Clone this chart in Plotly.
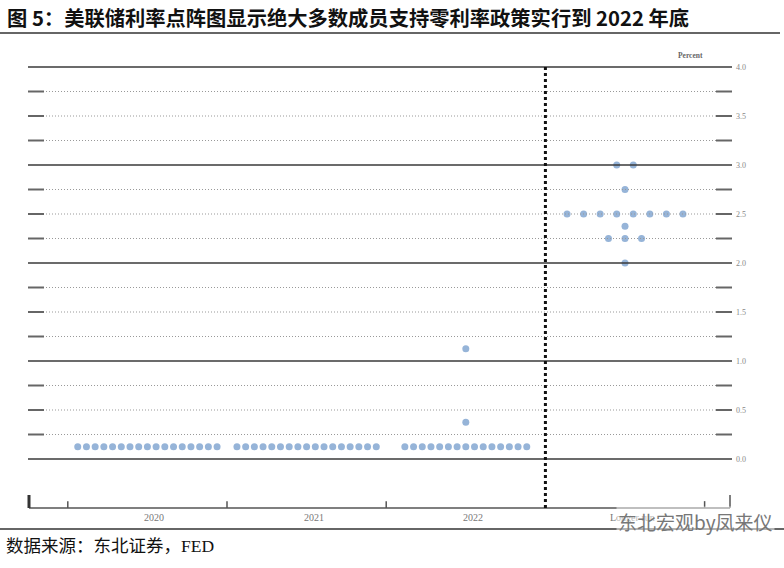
import plotly.graph_objects as go

# ---- data ----
categories = ["2020", "2021", "2022", "Longer run"]
rate_levels = [
    [0.125],                              # 2020
    [0.125],                              # 2021
    [0.125, 0.375, 1.125],                # 2022
    [2.0, 2.25, 2.375, 2.5, 2.75, 3.0],   # Longer run
]
rate_counts = [
    [17],
    [17],
    [15, 1, 1],
    [1, 3, 1, 8, 1, 2],
]
y_ticks = [0.0, 0.5, 1.0, 1.5, 2.0, 2.5, 3.0, 3.5, 4.0]
grid_levels = [i * 0.25 for i in range(17)]

title_text = "图 5：美联储利率点阵图显示绝大多数成员支持零利率政策实行到 2022 年底"
source_text = "数据来源：东北证券，FED"
watermark_text = "东北宏观by凤来仪"

# ---- geometry helpers (layout only) ----
W, H = 784, 568
X_RANGE = [-0.9259, 3.9987]
Y_RANGE = [-1.1122, 4.6837]
DOT_GAP = [0.0547, 0.0547, 0.0547, 0.104]

def px(x):
    return x / W

def py(y):
    return 1 - y / H

xs, ys = [], []
for ci, (levels, counts) in enumerate(zip(rate_levels, rate_counts)):
    for lv, n in zip(levels, counts):
        for k in range(n):
            xs.append(ci + (k - (n - 1) / 2) * DOT_GAP[ci])
            ys.append(lv)

fig = go.Figure()
fig.add_trace(go.Scatter(
    x=xs, y=ys, mode="markers",
    marker=dict(size=7, color="#96B4D8", line=dict(width=0)),
    hoverinfo="skip", showlegend=False,
))

shapes = []
for g in grid_levels:
    solid = abs(g - round(g)) < 1e-9
    shapes.append(dict(type="line", xref="paper", yref="y",
                       x0=px(28), x1=px(732), y0=g, y1=g,
                       line=dict(color="#3a3a3a" if solid else "#999",
                                 width=1.6 if solid else 1,
                                 dash="solid" if solid else "1px,2px")))
    if not solid:
        for a, b in [(28, 44), (716, 732)]:
            shapes.append(dict(type="line", xref="paper", yref="y",
                               x0=px(a), x1=px(b), y0=g, y1=g,
                               line=dict(color="#666", width=2)))

# bottom axis
shapes.append(dict(type="line", xref="paper", yref="y", x0=px(29), x1=px(730),
                   y0=-0.5, y1=-0.5, line=dict(color="#555", width=1.5)))
for t in [-0.5, 0.5, 1.5, 3.5]:
    shapes.append(dict(type="line", xref="x", yref="y", x0=t, x1=t,
                       y0=-0.5, y1=-0.43, line=dict(color="#555", width=1.5)))
shapes.append(dict(type="line", xref="paper", yref="y", x0=px(29), x1=px(29),
                   y0=-0.5, y1=-0.367, line=dict(color="#333", width=3)))
shapes.append(dict(type="line", xref="paper", yref="y", x0=px(730), x1=px(730),
                   y0=-0.5, y1=-0.367, line=dict(color="#555", width=1.5)))
# separator
shapes.append(dict(type="line", xref="x", yref="y", x0=2.5, x1=2.5,
                   y0=4.0, y1=-0.5, line=dict(color="#111", width=3, dash="dot")))
# page rules
shapes.append(dict(type="line", xref="paper", yref="paper", x0=0, x1=px(780),
                   y0=py(33), y1=py(33), line=dict(color="#333", width=1.5)))
shapes.append(dict(type="line", xref="paper", yref="paper", x0=0, x1=1,
                   y0=py(529), y1=py(529), line=dict(color="#333", width=1.5)))

annotations = []
for v in y_ticks:
    annotations.append(dict(xref="paper", yref="y", x=px(748), y=v,
                            text=f"{v:.1f}", showarrow=False,
                            font=dict(family="Liberation Serif", size=8, color="#888")))
annotations.append(dict(xref="paper", yref="paper", x=px(705), y=py(49),
                        text="<b>Percent</b>", showarrow=False,
                        font=dict(family="Liberation Serif", size=7.5, color="#666")))
for i, c in enumerate(categories):
    annotations.append(dict(xref="x", yref="y", x=i, y=-0.6, xshift=7,
                            text=c, showarrow=False,
                            font=dict(family="Liberation Serif", size=10, color="#777")))
annotations.append(dict(xref="paper", yref="paper", x=px(5), y=py(17),
                        xanchor="left", yanchor="middle", text="<b>" + title_text + "</b>",
                        showarrow=False,
                        font=dict(family="Noto Sans CJK SC, Liberation Serif", size=20.3, color="#111")))
annotations.append(dict(xref="paper", yref="paper", x=px(4), y=py(546),
                        xanchor="left", yanchor="middle", text=source_text,
                        showarrow=False,
                        font=dict(family="Liberation Serif, Noto Sans CJK SC", size=17.5, color="#111")))
annotations.append(dict(xref="paper", yref="paper", x=px(616), y=py(521),
                        xanchor="left", yanchor="middle", text=watermark_text,
                        showarrow=False, bgcolor="rgba(255,255,255,0.5)",
                        font=dict(family="Noto Sans CJK SC", size=19, color="#777")))

fig.update_layout(
    width=W, height=H,
    margin=dict(l=0, r=0, t=0, b=0),
    paper_bgcolor="white", plot_bgcolor="white",
    xaxis=dict(range=X_RANGE, visible=False, fixedrange=True),
    yaxis=dict(range=Y_RANGE, visible=False, fixedrange=True),
    shapes=shapes, annotations=annotations,
    showlegend=False,
)
fig.write_html("out.html", config={"displayModeBar": False},
               post_script="document.body.style.margin='0';document.body.style.overflow='hidden';")
